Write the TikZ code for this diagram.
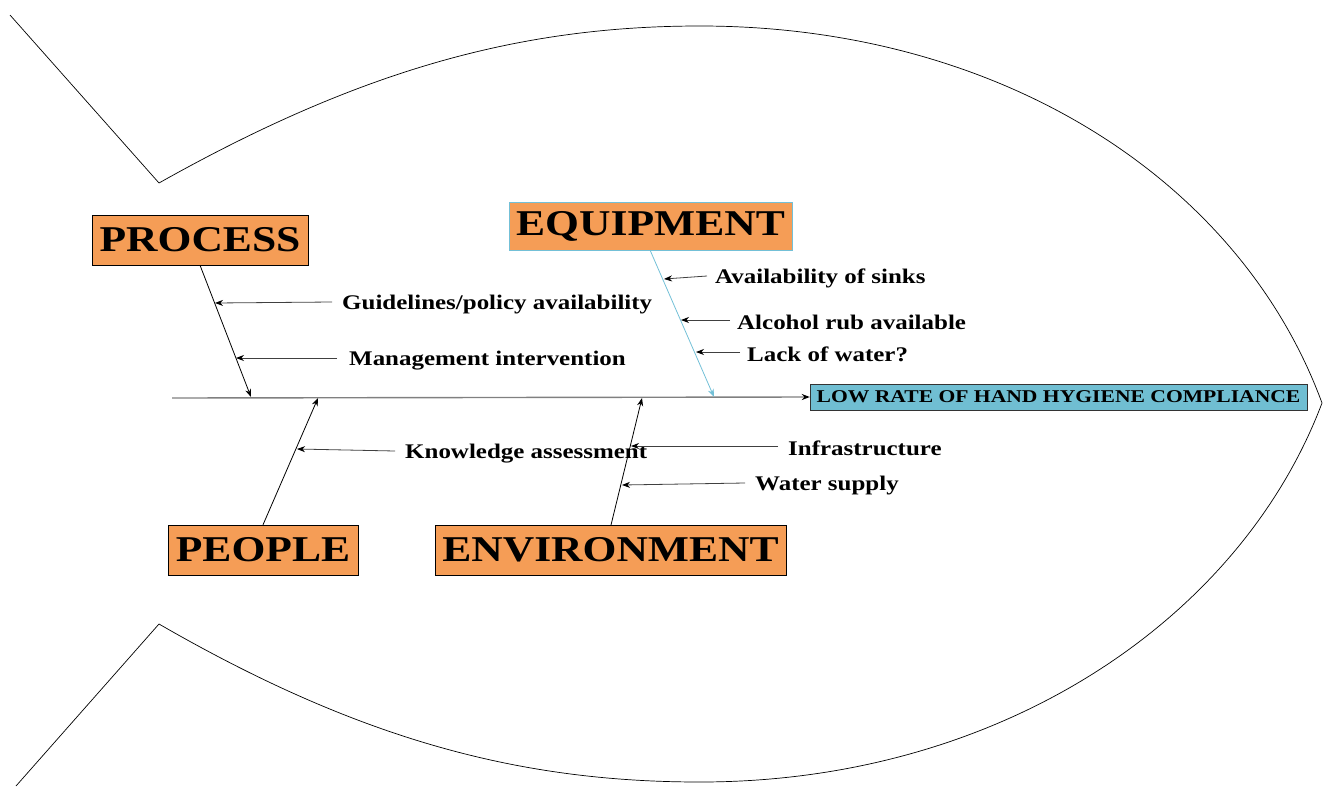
\documentclass[tikz,border=0pt]{standalone}
\usepackage{fontspec}
\setmainfont{Liberation Serif}[FakeStretch=1.2]
\usetikzlibrary{arrows.meta}
\definecolor{boxorange}{RGB}{245,157,86}
\definecolor{headblue}{RGB}{112,190,210}
\definecolor{bonblue}{RGB}{115,192,215}
\definecolor{spinegray}{RGB}{128,128,128}
\tikzset{
  catbox/.style={draw=black, fill=boxorange, inner sep=0pt, font=\fontsize{36.3}{40}\selectfont\bfseries},
  lbl/.style={anchor=west, inner sep=0pt, yshift=-2.5pt, font=\fontsize{20.8}{24}\selectfont\bfseries},
  tipa/.style={-{Stealth[length=8pt,width=6pt]}},
  bone/.style={tipa, line width=0.8pt, black},
  sub/.style={-{Stealth[length=8pt,width=6pt,black]}, line width=0.8pt, black!75},
  outline/.style={line width=0.7pt, black}
}
\begin{document}
\begin{tikzpicture}[x=1pt,y=-1pt]
\useasboundingbox (0,0) rectangle (1327,787);
% fish outline
\draw[outline] (10,15) -- (159,183)
  .. controls (360,70) and (520,26) .. (700,26)
  .. controls (1000,26) and (1240,180) .. (1322,403)
  .. controls (1240,620) and (1000,782) .. (700,782)
  .. controls (520,782) and (360,740) .. (159,624)
  -- (16,786);

% head and spine
\node[draw=black!80, fill=headblue, inner sep=0pt, minimum width=497, minimum height=26,
      font=\fontsize{18}{20}\selectfont\bfseries] (head) at (1058.5,397) {LOW RATE OF HAND HYGIENE COMPLIANCE};
\coordinate (tail) at (172,398);
\draw[-{Stealth[length=8pt,width=6pt,black]}, line width=1.4pt, spinegray] (tail) -- (head.west);

% category boxes
\node[catbox, minimum width=216, minimum height=50] (proc) at (200,240) {PROCESS};
\node[catbox, draw=bonblue, minimum width=283, minimum height=48] (equip) at (650.5,226) {EQUIPMENT};
\node[catbox, minimum width=190, minimum height=50] (people) at (263,550) {PEOPLE};
\node[catbox, minimum width=351, minimum height=50] (env) at (610.5,550) {ENVIRONMENT};

% bone ends on spine
\coordinate (pe) at (251,397);
\coordinate (ee) at (714,397);
\coordinate (ppe) at (318,398);
\coordinate (ene) at (642,398);

\draw[bone] (proc.south) -- (pe);
\draw[tipa, line width=0.8pt, bonblue] (650,250) -- (ee);
\draw[bone] (people.north) -- (ppe);
\draw[bone] (611,525) -- (ene);

% labels
\node[lbl] (g) at (342,302) {Guidelines/policy availability};
\node[lbl] (m) at (349,358) {Management intervention};
\node[lbl] (s) at (715,276) {Availability of sinks};
\node[lbl] (a) at (737,320) {Alcohol rub available};
\node[lbl] (w) at (747,352) {Lack of water?};
\node[lbl] (k) at (405,451) {Knowledge assessment};
\node[lbl] (i) at (788,446) {Infrastructure};
\node[lbl] (ws) at (755,483) {Water supply};

% tips on bones
\coordinate (gt) at (215,303);
\coordinate (mt) at (236,358);
\coordinate (st) at (664,279);
\coordinate (at) at (681,320);
\coordinate (wt) at (696,352);
\coordinate (kt) at (297,449);
\coordinate (it) at (631,446);
\coordinate (wst) at (622,485);

\draw[sub] ([xshift=-10pt,yshift=2.5pt]g.west) -- (gt);
\draw[sub] ([xshift=-12pt,yshift=2.5pt]m.west) -- (mt);
\draw[sub] ([xshift=-8pt,yshift=2.5pt]s.west) -- (st);
\draw[sub] ([xshift=-7pt,yshift=2.5pt]a.west) -- (at);
\draw[sub] ([xshift=-7pt,yshift=2.5pt]w.west) -- (wt);
\draw[sub] ([xshift=-10pt,yshift=2.5pt]k.west) -- (kt);
\draw[sub] ([xshift=-10pt,yshift=2.5pt]i.west) -- (it);
\draw[sub] ([xshift=-10pt,yshift=2.5pt]ws.west) -- (wst);
\end{tikzpicture}
\end{document}
